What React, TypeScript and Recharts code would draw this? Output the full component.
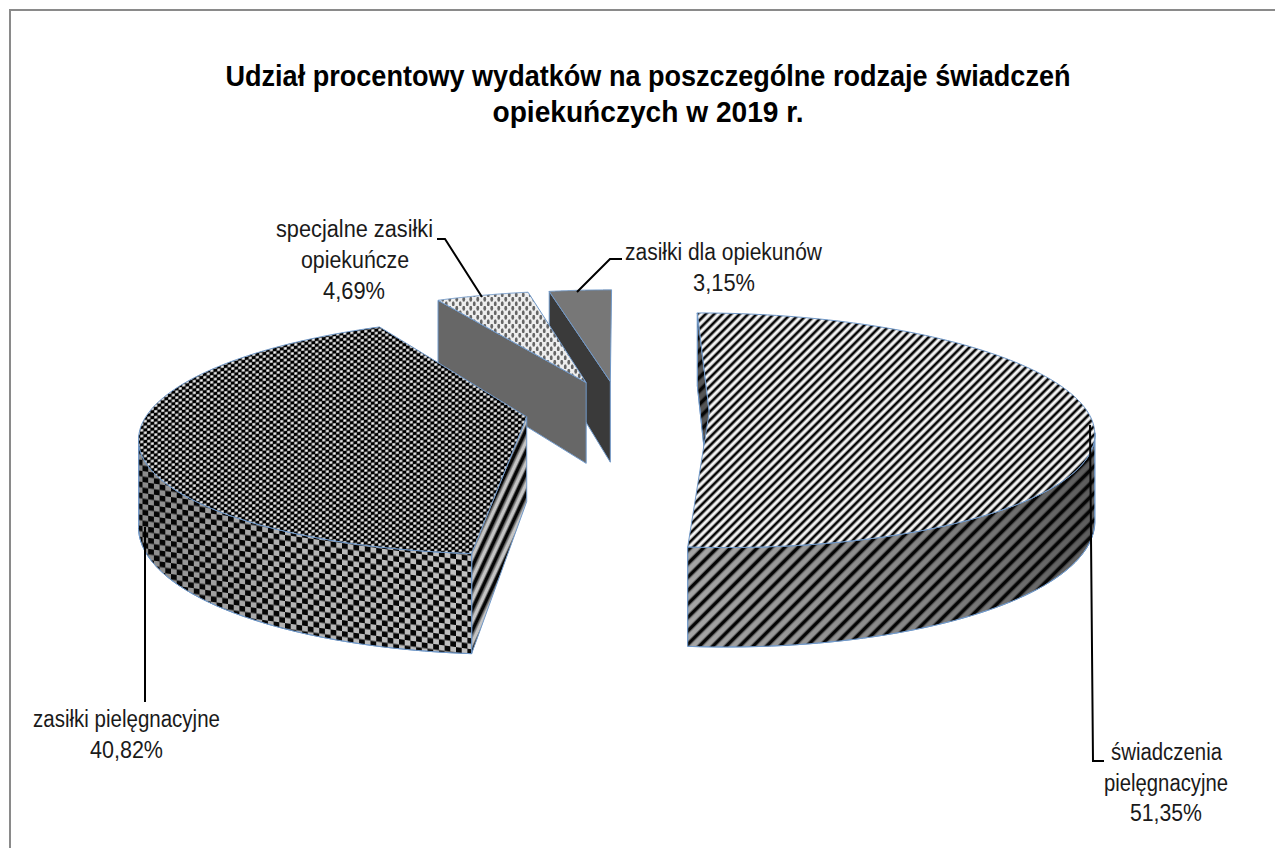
import { Pie, PieChart } from "recharts";

// drawn back to front, so the far slices come first
const categories = [
  "zasiłki dla opiekunów",
  "specjalne zasiłki opiekuńcze",
  "zasiłki pielęgnacyjne",
  "świadczenia pielęgnacyjne",
];
const values = [3.15, 4.69, 40.82, 51.35];
const titleLines = [
  "Udział procentowy wydatków na poszczególne rodzaje świadczeń",
  "opiekuńczych w 2019 r.",
];

const chartData = categories.map((name, i) => ({ name, value: values[i] }));

// how far each slice is pulled out, as a fraction of the radius
const explode = [0.27, 0.275, 0.25, 0.236];

// fake 3D projection settings
const TILT = 0.302;
const PERSPECTIVE = 0.154;
const DEPTH = 84;

const EDGE = "#7199c9";

const sliceStyles = [
  { top: ["#777777"], wall: ["#555555"], face: ["#3a3a3a"] },
  { top: ["url(#dots)"], wall: ["#666666"], face: ["#676767"] },
  {
    top: ["url(#checkTop)"],
    wall: ["url(#checkShade)", "url(#checkWall)"],
    face: ["url(#stripesFace)"],
  },
  {
    top: ["url(#stripesTop)"],
    wall: ["url(#stripeShade)", "url(#stripesWall)"],
    face: ["#555555", "url(#stripesWall)"],
  },
];

const labelLayout = [
  {
    lines: [
      { text: "zasiłki dla opiekunów", x: 625, y: 260, w: 197 },
      { text: "3,15%", x: 693, y: 291, w: 62 },
    ],
    leader: "577,292 610,259 622,259",
  },
  {
    lines: [
      { text: "specjalne zasiłki", x: 276, y: 237, w: 157 },
      { text: "opiekuńcze", x: 301, y: 268, w: 108 },
      { text: "4,69%", x: 323, y: 299, w: 62 },
    ],
    leader: "482,297 445,239 437,239",
  },
  {
    lines: [
      { text: "zasiłki pielęgnacyjne", x: 33, y: 727, w: 187 },
      { text: "40,82%", x: 90, y: 758, w: 73 },
    ],
    leader: "145,527 145,702",
  },
  {
    lines: [
      { text: "świadczenia", x: 1111, y: 760, w: 111 },
      { text: "pielęgnacyjne", x: 1104, y: 791, w: 124 },
      { text: "51,35%", x: 1130, y: 821, w: 72 },
    ],
    leader: "1090,425 1093,761 1104,761",
  },
];

const rad = (d: number) => (d * Math.PI) / 180;

function SliceShape(props: any) {
  const { cx, cy, outerRadius: R, startAngle, endAngle, name, payload } = props;
  const idx = categories.indexOf(name ?? payload?.name);
  const style = sliceStyles[idx];

  // recharts angles run counter-clockwise from east, use clockwise from north here
  const a = 90 - startAngle;
  const b = 90 - endAngle;
  const lo = Math.min(a, b);
  const hi = Math.max(a, b);
  const mid = (lo + hi) / 2;
  const ox = explode[idx] * Math.sin(rad(mid));
  const oy = explode[idx] * Math.cos(rad(mid));

  const project = (theta: number, frac: number) => {
    const u = ox + frac * Math.sin(rad(theta));
    const v = oy + frac * Math.cos(rad(theta));
    const w = 1 + PERSPECTIVE * v;
    return { x: cx + (R * u) / w, y: cy - (R * TILT * v) / w, drop: DEPTH / w };
  };

  const steps = 120;
  const thetas: number[] = [];
  for (let i = 0; i <= steps; i++) thetas.push(lo + ((hi - lo) * i) / steps);

  const arc = thetas.map((t) => project(t, 1));
  const apex = project(mid, 0);
  const first = arc[0];
  const topPath =
    `M${apex.x},${apex.y} ` + arc.map((p) => `L${p.x},${p.y}`).join(" ") + " Z";
  const facePath =
    `M${apex.x},${apex.y} L${first.x},${first.y} ` +
    `L${first.x},${first.y + first.drop} L${apex.x},${apex.y + apex.drop} Z`;

  // only the part of the rim that faces the viewer gets a wall
  const front = thetas
    .filter((t) => Math.cos(rad(t)) < -PERSPECTIVE)
    .map((t) => project(t, 1));
  const wallPath = front.length
    ? front.map((p, i) => `${i ? "L" : "M"}${p.x},${p.y}`).join(" ") +
      " " +
      [...front]
        .reverse()
        .map((p) => `L${p.x},${p.y + p.drop}`)
        .join(" ") +
      " Z"
    : null;

  const edge = { stroke: EDGE, strokeWidth: 1 };
  return (
    <g>
      {style.face.map((fill, i) => (
        <path key={i} d={facePath} fill={fill} {...edge} />
      ))}
      {wallPath &&
        style.wall.map((fill, i) => (
          <path key={i} d={wallPath} fill={fill} {...edge} />
        ))}
      {style.top.map((fill, i) => (
        <path key={i} d={topPath} fill={fill} {...edge} />
      ))}
    </g>
  );
}

function SliceLabel(props: any) {
  const layout = labelLayout[props.index];
  return (
    <g>
      <polyline points={layout.leader} fill="none" stroke="#000" strokeWidth={2} />
      {layout.lines.map((line) => (
        <text
          key={line.text}
          x={line.x}
          y={line.y}
          textLength={line.w}
          lengthAdjust="spacingAndGlyphs"
          fontFamily="'Liberation Sans', Arial, sans-serif"
          fontSize={23}
          fill="#1a1a1a"
          stroke="none"
        >
          {line.text}
        </text>
      ))}
    </g>
  );
}

export default function App() {
  return (
    <div style={{ position: "fixed", left: 0, top: 0, width: 1275, height: 848, background: "#fff" }}>
      <div
        style={{
          position: "absolute",
          left: 9,
          top: 9,
          width: 1266,
          height: 839,
          boxSizing: "border-box",
          borderTop: "2px solid #8a8a8a",
          borderLeft: "2px solid #8a8a8a",
        }}
      />
      <div style={{ position: "absolute", left: 0, top: 0 }}>
        <PieChart width={1275} height={848} margin={{ top: 0, right: 0, bottom: 0, left: 0 }}>
          <defs>
            <pattern id="stripesTop" patternUnits="userSpaceOnUse" width={6} height={6} patternTransform="rotate(45)">
              <rect width={6} height={6} fill="#f6f6f6" />
              <rect x={0} width={2.4} height={6} fill="#050505" />
              <rect x={2.4} width={0.6} height={6} fill="#808080" />
              <rect x={5.4} width={0.6} height={6} fill="#808080" />
            </pattern>
            <pattern id="stripesWall" patternUnits="userSpaceOnUse" width={9.5} height={9.5} patternTransform="rotate(45)">
              <rect x={0} width={3} height={9.5} fill="#050505" />
              <rect x={3} width={1} height={9.5} fill="#000" fillOpacity={0.4} />
              <rect x={8.5} width={1} height={9.5} fill="#000" fillOpacity={0.4} />
            </pattern>
            <pattern id="stripesFace" patternUnits="userSpaceOnUse" width={9} height={9} patternTransform="rotate(25)">
              <rect width={9} height={9} fill="#c4c4c4" />
              <rect x={0} width={3.6} height={9} fill="#060606" />
              <rect x={3.6} width={1} height={9} fill="#666" />
              <rect x={8} width={1} height={9} fill="#666" />
            </pattern>
            <pattern id="checkTop" patternUnits="userSpaceOnUse" width={7} height={5.8} patternTransform="skewY(-6)">
              <rect width={7} height={5.8} fill="#555" />
              <rect x={0} y={0} width={3.5} height={2.9} fill="#000" />
              <rect x={3.5} y={2.9} width={3.5} height={2.9} fill="#000" />
              <rect x={4} y={0.4} width={2.6} height={2.1} fill="#f8f8f8" />
              <rect x={0.5} y={3.3} width={2.6} height={2.1} fill="#f8f8f8" />
            </pattern>
            <pattern id="checkWall" patternUnits="userSpaceOnUse" width={11.4} height={11} patternTransform="skewY(8)">
              <rect x={0} y={0} width={5.7} height={5.5} fill="#060606" />
              <rect x={5.7} y={5.5} width={5.7} height={5.5} fill="#060606" />
            </pattern>
            <linearGradient id="stripeShade" x1="0" y1="0" x2="1" y2="0">
              <stop offset="0%" stopColor="#a6a6a6" />
              <stop offset="55%" stopColor="#868686" />
              <stop offset="100%" stopColor="#5c5c5c" />
            </linearGradient>
            <linearGradient id="checkShade" x1="0" y1="0" x2="1" y2="0">
              <stop offset="0%" stopColor="#8a8a8a" />
              <stop offset="45%" stopColor="#b4b4b4" />
              <stop offset="100%" stopColor="#c2c2c2" />
            </linearGradient>
            <pattern id="dots" patternUnits="userSpaceOnUse" width={7} height={9}>
              <rect width={7} height={9} fill="#eeeeee" />
              <ellipse cx={1.75} cy={2.25} rx={1.4} ry={2.5} fill="#666" />
              <ellipse cx={5.25} cy={6.75} rx={1.4} ry={2.5} fill="#666" />
            </pattern>
          </defs>
          {titleLines.map((line, i) => (
            <text
              key={line}
              x={648}
              y={86 + i * 36}
              textAnchor="middle"
              textLength={i === 0 ? 845 : 311}
              lengthAdjust="spacingAndGlyphs"
              fontFamily="'Liberation Sans', Arial, sans-serif"
              fontWeight="bold"
              fontSize={29}
              fill="#000"
            >
              {line}
            </text>
          ))}
          <Pie
            data={chartData}
            dataKey="value"
            nameKey="name"
            cx={620}
            cy={411}
            outerRadius={378}
            startAngle={90}
            endAngle={450}
            shape={SliceShape}
            label={SliceLabel}
            labelLine={false}
            isAnimationActive={false}
          />
        </PieChart>
      </div>
    </div>
  );
}
